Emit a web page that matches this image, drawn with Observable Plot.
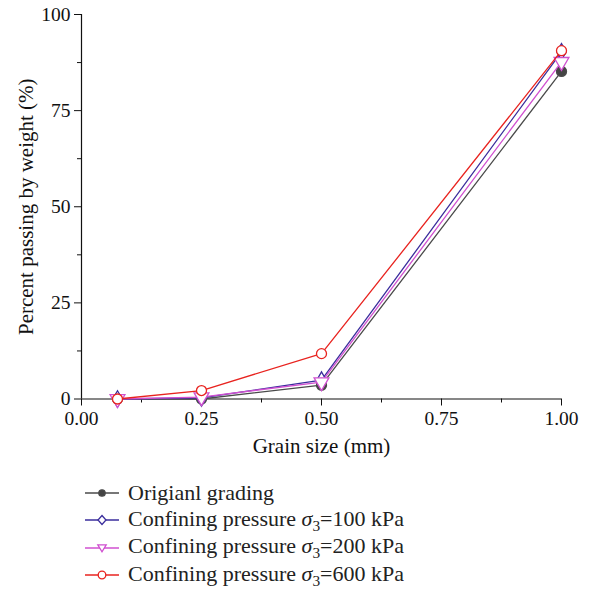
<!DOCTYPE html>
<html>
<head>
<meta charset="utf-8">
<script src="https://cdn.jsdelivr.net/npm/d3@7"></script>
<script src="https://cdn.jsdelivr.net/npm/@observablehq/plot@0.6"></script>
<style>
body { margin: 0; background: #fff; font-family: "Liberation Serif", "DejaVu Serif", serif; }
#legend { position: relative; margin-left: 85px; margin-top: 9px; }
.row { display: flex; align-items: center; height: 27.5px; font-size: 22px; color: #222; }
.row svg { margin-right: 9px; }
</style>
</head>
<body>
<div id="chart"></div>
<div id="legend"></div>
<script>
const grainSize = [0.075, 0.25, 0.5, 1.0];
const seriesNames = ["Origianl grading", "Confining pressure σ3=100 kPa", "Confining pressure σ3=200 kPa", "Confining pressure σ3=600 kPa"];
const original = [0, 0, 3.6, 85.2];
const p100 = [0, 0.3, 4.9, 90.3];
const p200 = [0, 0.5, 4.4, 87.7];
const p600 = [0, 2.2, 11.8, 90.6];
const colors = ["#4a4a4a", "#3a2d9c", "#d050d0", "#e8231f"];
const symbols = ["circle", "diamond", "triangle", "circle"];
const rotates = [0, 0, 180, 0];
const fills = ["#444", "white", "white", "white"];
const xTicks = [0, 0.25, 0.5, 0.75, 1.0];
const xMinor = [0.125, 0.375, 0.625, 0.875];
const yTicks = [0, 25, 50, 75, 100];
const yMinor = [12.5, 37.5, 62.5, 87.5];

const allSeries = [original, p100, p200, p600];
const data = [];
allSeries.forEach((vals, si) => vals.forEach((v, i) => data.push({series: si, x: grainSize[i], y: v})));

const marks = [];
allSeries.forEach((vals, si) => {
  const d = data.filter(e => e.series === si);
  marks.push(Plot.line(d, {x: "x", y: "y", stroke: colors[si], strokeWidth: 1.3}));
  marks.push(Plot.dot(d, {x: "x", y: "y", symbol: () => symbols[si], rotate: rotates[si], r: si === 2 ? 5.5 : 5, stroke: colors[si], fill: fills[si], strokeWidth: 1.3}));
});

const chart = Plot.plot({
  width: 594,
  height: 470,
  marginLeft: 81,
  marginRight: 33,
  marginTop: 14,
  marginBottom: 71.5,
  style: {fontFamily: "Liberation Serif, DejaVu Serif, serif", fontSize: "19px", color: "#111", background: "white"},
  symbol: {type: "identity"},
  x: {type: "linear", domain: [0, 1]},
  y: {type: "linear", domain: [0, 100]},
  marks: [
    Plot.axisX({ticks: xTicks, tickSize: 7, tickPadding: 5, tickFormat: d => d.toFixed(2), label: null, fontSize: 19.5, stroke: "#111"}),
    Plot.axisX({ticks: xMinor, tickSize: 4, tickFormat: () => "", label: null, stroke: "#111"}),
    Plot.axisY({ticks: yTicks, tickSize: 7, tickPadding: 4, tickFormat: d => String(d), label: null, fontSize: 19.5, stroke: "#111"}),
    Plot.axisY({ticks: yMinor, tickSize: 4, tickFormat: () => "", label: null, stroke: "#111"}),
    Plot.ruleX([0], {stroke: "#111", strokeWidth: 1.2}),
    Plot.ruleY([0], {stroke: "#111", strokeWidth: 1.2}),
    Plot.text(["Grain size (mm)"], {frameAnchor: "bottom", dy: 54, fontSize: 21, fill: "#111"}),
    Plot.text(["Percent passing by weight (%)"], {frameAnchor: "left", dx: -55, rotate: -90, textAnchor: "middle", fontSize: 21, fill: "#111"}),
    ...marks
  ]
});

document.getElementById("chart").appendChild(chart);

// legend
const legend = document.getElementById("legend");
seriesNames.forEach((name, si) => {
  const row = document.createElement("div");
  row.className = "row";
  const w = 34, h = 14, cx = 17, cy = 7;
  let marker;
  if (symbols[si] === "circle") marker = `<circle cx="${cx}" cy="${cy}" r="${si===0?3.2:3.8}" fill="${fills[si]}" stroke="${colors[si]}" stroke-width="1.3"/>`;
  else if (symbols[si] === "diamond") marker = `<path d="M${cx},${cy-4.5}L${cx+4},${cy}L${cx},${cy+4.5}L${cx-4},${cy}Z" fill="white" stroke="${colors[si]}" stroke-width="1.3"/>`;
  else marker = `<path d="M${cx-4.2},${cy-3.2}L${cx+4.2},${cy-3.2}L${cx},${cy+3.8}Z" fill="white" stroke="${colors[si]}" stroke-width="1.3"/>`;
  row.innerHTML = `<svg width="${w}" height="${h}"><line x1="0" x2="${w}" y1="${cy}" y2="${cy}" stroke="${colors[si]}" stroke-width="1.5"/>${marker}</svg>`;
  const span = document.createElement("span");
  if (si === 0) span.textContent = name;
  else {
    const parts = name.split("σ3");
    span.innerHTML = `${parts[0]}<i>σ</i><sub style="font-size:0.7em">3</sub>${parts[1]}`;
  }
  row.appendChild(span);
  legend.appendChild(row);
});
</script>
</body>
</html>
